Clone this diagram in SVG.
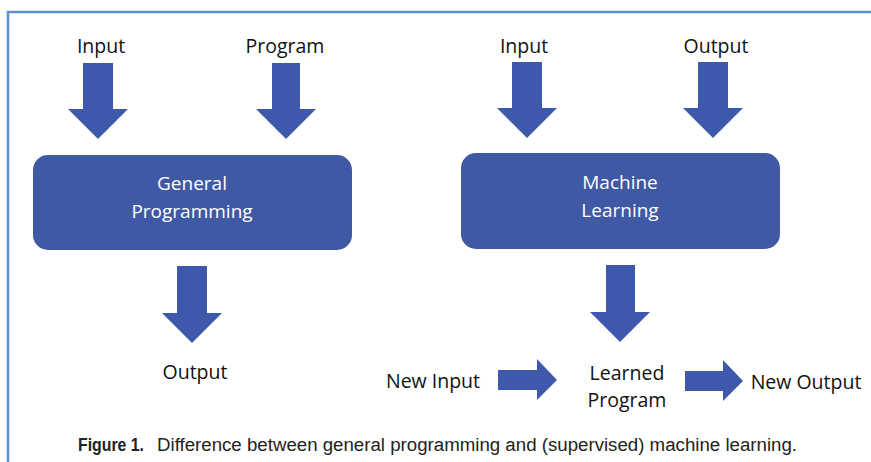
<svg xmlns="http://www.w3.org/2000/svg" width="871" height="462" viewBox="0 0 871 462">
<style>
.lbl{font-family:"Open Sans","Noto Sans",sans-serif;font-size:19.5px;fill:#111}
.in{font-family:"Open Sans","Noto Sans",sans-serif;font-size:19px;fill:#fff}
.box{fill:#4059a5}
.arr{fill:#3e59ab}
.cap{font-family:"Liberation Sans",Arial,sans-serif;font-size:18px;fill:#222}
</style>
<rect width="871" height="462" fill="#fff"/>
<g id="frame" fill="none" stroke="#5b8fd0" stroke-width="2.5">
<path d="M8 462 V12 H871"/>
</g>
<g id="connectors">
<polygon class="arr" points="83,63 113,63 113,109 128,109 98,139 68,109 83,109"/>
<polygon class="arr" points="272,63 300,63 300,109 316,109 286,139 256,109 272,109"/>
<polygon class="arr" points="512,62 542,62 542,108 557,108 527,138 497,108 512,108"/>
<polygon class="arr" points="698,62 728,62 728,108 743,108 713,138 683,108 698,108"/>
<polygon class="arr" points="177,266 207,266 207,313 222,313 192,343 162,313 177,313"/>
<polygon class="arr" points="606,265 635,265 635,312 650,312 620,342 590,312 606,312"/>
<polygon class="arr" points="498,370 537,370 537,359 557,380 537,400 537,390 498,390"/>
<polygon class="arr" points="685,371 723,371 723,360 743,381 723,401 723,391 685,391"/>
</g>
<g id="label-input-left"><text class="lbl" x="101" y="53" text-anchor="middle">Input</text></g>
<g id="label-program"><text class="lbl" x="285" y="53" text-anchor="middle">Program</text></g>
<g id="label-input-right"><text class="lbl" x="524" y="53" text-anchor="middle">Input</text></g>
<g id="label-output-top"><text class="lbl" x="716" y="53" text-anchor="middle">Output</text></g>
<g id="node-general">
<rect class="box" x="33" y="155" width="319" height="95" rx="15"/>
<text class="in" x="192" y="190" text-anchor="middle">General</text>
<text class="in" x="192" y="218" text-anchor="middle">Programming</text>
</g>
<g id="node-ml">
<rect class="box" x="461" y="153" width="319" height="96" rx="15"/>
<text class="in" x="620" y="189" text-anchor="middle">Machine</text>
<text class="in" x="620" y="217" text-anchor="middle">Learning</text>
</g>
<g id="label-output-left"><text class="lbl" x="195" y="379" text-anchor="middle">Output</text></g>
<g id="label-new-input"><text class="lbl" x="433" y="388" text-anchor="middle">New Input</text></g>
<g id="node-learned">
<text class="lbl" x="627" y="380" text-anchor="middle">Learned</text>
<text class="lbl" x="627" y="407" text-anchor="middle">Program</text>
</g>
<g id="label-new-output"><text class="lbl" x="806" y="389" text-anchor="middle">New Output</text></g>
<g id="caption">
<text class="cap" x="78" y="451" font-weight="bold" textLength="66" lengthAdjust="spacingAndGlyphs">Figure 1.</text>
<text class="cap" x="157" y="451" textLength="640" lengthAdjust="spacingAndGlyphs">Difference between general programming and (supervised) machine learning.</text>
</g>
</svg>
